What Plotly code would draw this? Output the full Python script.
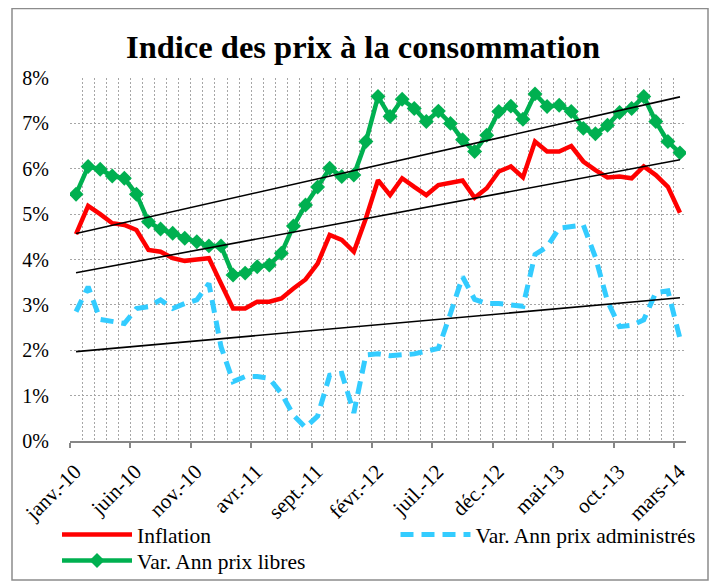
import numpy as np
import plotly.graph_objects as go

# ---- data (monthly, janv.-10 .. mars-14), values in % ----
month_index = list(range(51))
tick_labels = ["janv.-10", "juin-10", "nov.-10", "avr.-11", "sept.-11", "févr.-12",
               "juil.-12", "déc.-12", "mai-13", "oct.-13", "mars-14"]
tick_positions = [0, 5, 10, 15, 20, 25, 30, 35, 40, 45, 50]

inflation = [4.56, 5.18, 5.00, 4.80, 4.76, 4.65, 4.21, 4.17, 4.03, 3.97, 4.00, 4.03,
             3.47, 2.92, 2.92, 3.07, 3.07, 3.14, 3.36, 3.56, 3.91, 4.54, 4.43, 4.17,
             4.91, 5.75, 5.42, 5.79, 5.60, 5.42, 5.64, 5.68, 5.74, 5.36, 5.57, 5.94,
             6.05, 5.81, 6.60, 6.38, 6.38, 6.50, 6.16, 5.97, 5.81, 5.83, 5.79, 6.05,
             5.86, 5.60, 5.03]

prix_administres = [2.85, 3.40, 2.68, 2.63, 2.59, 2.92, 2.96, 3.11, 2.92, 3.03, 3.11, 3.47,
                    2.08, 1.31, 1.42, 1.42, 1.38, 1.05, 0.57, 0.30, 0.55, 1.45, 1.49, 0.62,
                    1.90, 1.92, 1.88, 1.90, 1.92, 1.98, 2.04, 2.81, 3.62, 3.12, 3.03, 3.03,
                    3.00, 2.97, 4.11, 4.28, 4.69, 4.73, 4.76, 4.05, 3.08, 2.52, 2.55, 2.67,
                    3.27, 3.31, 2.26]

prix_libres = [5.44, 6.05, 5.99, 5.84, 5.79, 5.44, 4.83, 4.67, 4.58, 4.47, 4.39, 4.30,
               4.30, 3.66, 3.70, 3.84, 3.88, 4.14, 4.74, 5.20, 5.60, 6.01, 5.83, 5.86,
               6.60, 7.59, 7.15, 7.53, 7.33, 7.04, 7.27, 7.00, 6.64, 6.38, 6.74, 7.26,
               7.38, 7.09, 7.65, 7.37, 7.40, 7.26, 6.89, 6.77, 6.96, 7.24, 7.33, 7.59,
               7.04, 6.60, 6.35]

FONT = "Liberation Serif, Times New Roman, serif"
GRID = "#a6a6a6"

# page has an 8px body margin: figure is laid out in its own pixel frame
W, H = 709, 574
L, R, T, B = 62, 31, 70, 141
PW, PH = W - L - R, H - T - B

x = np.array(month_index, dtype=float)
boundaries = [i - 0.5 for i in range(len(month_index) + 1)]
major_bounds = [p - 0.5 for p in tick_positions]

fig = go.Figure()

fig.add_trace(go.Scatter(x=x, y=inflation, name="Inflation", mode="lines",
                         line=dict(color="#ff0000", width=4.5), legend="legend"))
fig.add_trace(go.Scatter(x=x, y=prix_administres, name="Var. Ann prix administrés", mode="lines",
                         line=dict(color="#33ccff", width=5, dash="13px,8px"), legend="legend2"))
fig.add_trace(go.Scatter(x=x, y=prix_libres, name="Var. Ann prix libres", mode="lines+markers",
                         line=dict(color="#00b050", width=4.5),
                         marker=dict(symbol="diamond", size=11.5, color="#00b050"), legend="legend3"))

# linear trend lines
for series in (prix_libres, inflation, prix_administres):
    slope, intercept = np.polyfit(x, np.array(series), 1)
    fig.add_trace(go.Scatter(x=[x[0], x[-1]], y=[intercept + slope * x[0], intercept + slope * x[-1]],
                             mode="lines", line=dict(color="black", width=1.6),
                             showlegend=False, hoverinfo="skip"))

legend_common = dict(orientation="v", xanchor="left", yanchor="top", itemwidth=70,
                     tracegroupgap=0, font=dict(family=FONT, size=21.5),
                     bgcolor="rgba(0,0,0,0)")
row1_y = (H - B - 506) / PH
row2_y = (H - B - 532) / PH

fig.update_layout(
    width=W, height=H,
    margin=dict(l=L, r=R, t=T, b=B, autoexpand=False),
    paper_bgcolor="white", plot_bgcolor="white",
    font=dict(family=FONT, size=21, color="black"),
    title=dict(text="<b>Indice des prix à la consommation</b>", x=355 / W, xanchor="center",
               y=1 - 39 / H, yanchor="middle", font=dict(family=FONT, size=32.5, color="black")),
    showlegend=True,
    legend=dict(x=(49 - L) / PW, y=row1_y, **legend_common),
    legend2=dict(x=(387.5 - L) / PW, y=row1_y, **legend_common),
    legend3=dict(x=(49 - L) / PW, y=row2_y, **legend_common),
    shapes=[dict(type="rect", xref="paper", yref="paper",
                 x0=(4 - L) / PW, x1=(700 - L) / PW,
                 y0=(H - B - 572) / PH, y1=(H - B - 0.5) / PH,
                 line=dict(color="#8c8c8c", width=1.5), fillcolor="rgba(0,0,0,0)", layer="below")],
)

fig.update_xaxes(
    range=[-0.5, len(month_index) - 0.5],
    tickmode="array", tickvals=major_bounds, ticktext=tick_labels,
    tickangle=-45, ticklabelshift=5, ticklabelstandoff=3,
    ticks="outside", ticklen=5, tickwidth=2, tickcolor="#868686",
    showline=True, linecolor="#868686", linewidth=2,
    showgrid=True, gridcolor=GRID, griddash="2px,2px", gridwidth=1,
    minor=dict(tickmode="array", tickvals=boundaries, showgrid=True,
               gridcolor=GRID, griddash="2px,2px", gridwidth=1, ticks=""),
    zeroline=False,
    tickfont=dict(family=FONT, size=21),
)
fig.update_yaxes(
    range=[0, 8], dtick=1, ticksuffix="%",
    showgrid=True, gridcolor=GRID, griddash="2px,2px", gridwidth=1,
    showline=False, zeroline=False,
    ticks="outside", ticklen=16, tickcolor="rgba(0,0,0,0)",
    tickfont=dict(family=FONT, size=20),
)

fig.write_html("out.html")
